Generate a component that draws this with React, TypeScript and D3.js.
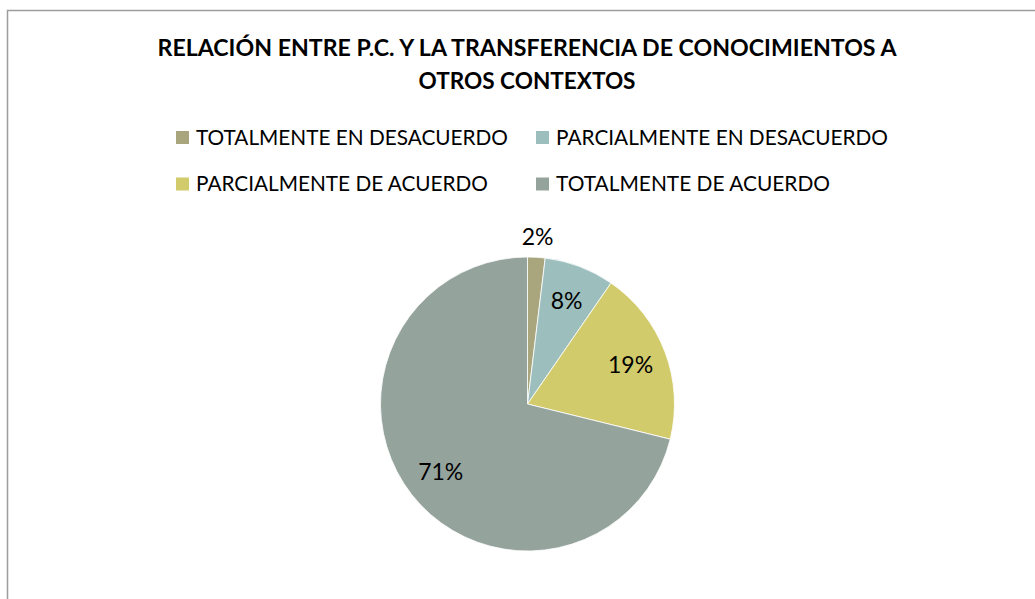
import React, { useRef, useEffect } from 'react';
import * as d3 from 'd3';

const titleLines = ['RELACIÓN ENTRE P.C. Y LA TRANSFERENCIA DE CONOCIMIENTOS A', 'OTROS CONTEXTOS'];
const categories = [
  'TOTALMENTE EN DESACUERDO',
  'PARCIALMENTE EN DESACUERDO',
  'PARCIALMENTE DE ACUERDO',
  'TOTALMENTE DE ACUERDO',
];
const counts = [1, 4, 10, 37];
const colors = ['#a9a57c', '#9cbebd', '#d2cb6c', '#95a39d'];

const W = 1035;
const H = 599;

export default function App() {
  const svgRef = useRef<SVGSVGElement>(null);

  useEffect(() => {
    if (!svgRef.current) return;
    const svg = d3.select(svgRef.current);
    svg.selectAll('*').remove();

    const font = 'Lato, Calibri, sans-serif';

    // chart frame (runs past the right and bottom edges)
    svg.append('rect')
      .attr('x', 7.5).attr('y', 10.5)
      .attr('width', W + 10).attr('height', H + 10)
      .attr('fill', 'white')
      .attr('stroke', '#9d9d9d')
      .attr('stroke-width', 1.5);

    // title
    const titleWidths = [739, 217];
    titleLines.forEach((t, i) => {
      svg.append('text')
        .attr('x', 527).attr('y', 56 + i * 33)
        .attr('text-anchor', 'middle')
        .attr('textLength', titleWidths[i])
        .attr('lengthAdjust', 'spacingAndGlyphs')
        .style('font-family', font)
        .style('font-weight', 'bold')
        .style('font-size', '22px')
        .style('fill', '#000')
        .text(t);
    });

    // legend, 2 columns
    const legendX = [176, 536];
    const legendY = [131, 177.5];
    const legendWidths = [312, 332, 292, 274];
    categories.forEach((c, i) => {
      const col = i % 2;
      const row = Math.floor(i / 2);
      const g = svg.append('g').attr('transform', `translate(${legendX[col]},${legendY[row]})`);
      g.append('rect')
        .attr('width', 13).attr('height', 13)
        .attr('fill', colors[i]);
      g.append('text')
        .attr('x', 20).attr('y', 13.5)
        .attr('textLength', legendWidths[i])
        .attr('lengthAdjust', 'spacingAndGlyphs')
        .style('font-family', font)
        .style('font-size', '20.5px')
        .style('fill', '#000')
        .text(c);
    });

    // pie
    const cx = 527.5;
    const cy = 404;
    const r = 147;
    const total = d3.sum(counts);
    const pie = d3.pie<number>().sort(null).value(d => d);
    const arcs = pie(counts);
    const arc = d3.arc<d3.PieArcDatum<number>>().innerRadius(0).outerRadius(r);

    const g = svg.append('g').attr('transform', `translate(${cx},${cy})`);
    g.selectAll('path.slice')
      .data(arcs)
      .join('path')
      .attr('class', 'slice')
      .attr('d', arc)
      .attr('fill', (_d, i) => colors[i])
      .attr('stroke', 'white')
      .attr('stroke-width', 0.8);

    g.selectAll('text.lbl')
      .data(arcs)
      .join('text')
      .attr('class', 'lbl')
      .attr('transform', d => {
        const a = (d.startAngle + d.endAngle) / 2;
        const small = d.value / total < 0.05;
        const lr = small ? r + 21 : r * 0.75;
        return `translate(${Math.sin(a) * lr},${-Math.cos(a) * lr})`;
      })
      .attr('text-anchor', 'middle')
      .attr('dy', '0.36em')
      .style('font-family', font)
      .style('font-size', '23px')
      .style('fill', '#000')
      .text(d => `${Math.round((d.value / total) * 100)}%`);
  }, []);

  return (
    <svg
      ref={svgRef}
      width={W}
      height={H}
      style={{ position: 'absolute', left: 0, top: 0, background: 'white' }}
    />
  );
}
